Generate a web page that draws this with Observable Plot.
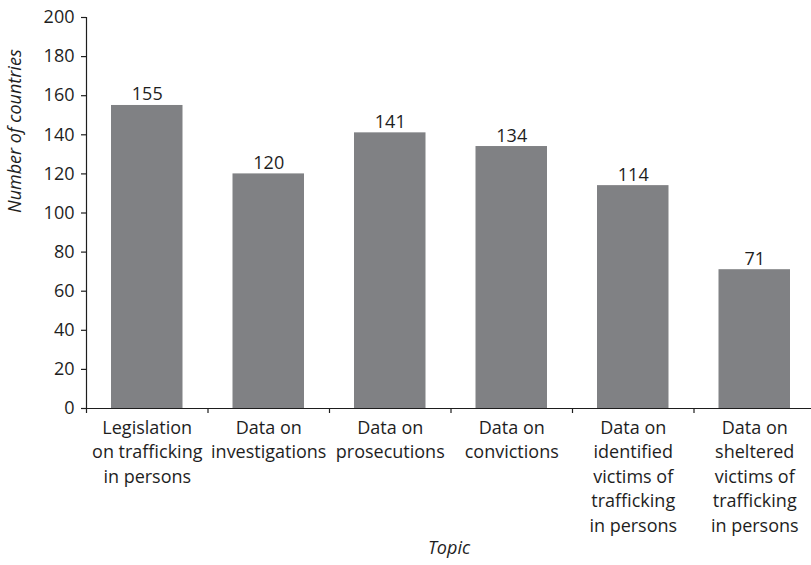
<!DOCTYPE html>
<html>
<head>
<meta charset="utf-8">
<script src="https://cdn.jsdelivr.net/npm/d3@7"></script>
<script src="https://cdn.jsdelivr.net/npm/@observablehq/plot@0.6"></script>
<style>
  html, body { margin: 0; padding: 0; background: #fff; }
  svg { display: block; }
</style>
</head>
<body>
<div id="chart"></div>
<script>
const categories = [
  "Legislation\non trafficking\nin persons",
  "Data on\ninvestigations",
  "Data on\nprosecutions",
  "Data on\nconvictions",
  "Data on\nidentified\nvictims of\ntrafficking\nin persons",
  "Data on\nsheltered\nvictims of\ntrafficking\nin persons"
];
const values = [155, 120, 141, 134, 114, 71];
const yTicks = [0, 20, 40, 60, 80, 100, 120, 140, 160, 180, 200];
const yLabel = "Number of countries";
const xLabel = "Topic";

const data = categories.map((c, i) => ({idx: i, category: c, value: values[i]}));
const boundaries = categories.map((c, i) => i);

const ink = "#1e1e1e";
const barColor = "#808184";
const font = "'Open Sans', sans-serif";

const chart = Plot.plot({
  width: 811,
  height: 565,
  marginTop: 17,
  marginBottom: 157,
  marginLeft: 86,
  marginRight: 0,
  style: {fontFamily: font, fontSize: "18px", color: ink, background: "#fff"},
  x: {type: "linear", domain: [0, categories.length], range: [86, 815], axis: null},
  y: {domain: [0, 200], axis: null},
  marks: [
    Plot.rectY(data, {x1: d => d.idx, x2: d => d.idx + 1, y1: 0, y2: "value", fill: barColor, insetLeft: 25, insetRight: 25}),
    Plot.ruleY([0], {stroke: ink, strokeWidth: 1.2}),
    Plot.ruleX([0], {y1: 0, y2: 200, stroke: ink, strokeWidth: 1.2}),
    Plot.axisX({ticks: boundaries, tickSize: 5, tickFormat: () => "", stroke: ink, strokeWidth: 1.2, label: null}),
    Plot.axisY({ticks: yTicks, tickSize: 5, tickPadding: 7, fontSize: 18, fill: ink, stroke: ink, strokeWidth: 1.2, label: null}),
    Plot.text(data, {x: d => d.idx + 0.5, y: 0, text: "category", lineAnchor: "top", dy: 8, lineHeight: 1.36, fontSize: 18, fill: ink, textAnchor: "middle"}),
    Plot.text(data, {x: d => d.idx + 0.5, y: "value", text: d => String(d.value), lineAnchor: "bottom", dy: -5, fontSize: 18, fill: ink}),
    Plot.text([yLabel], {frameAnchor: "left", rotate: -90, dx: -71, fontSize: 18, fontStyle: "italic", fill: ink}),
    Plot.text([xLabel], {frameAnchor: "bottom", dy: 145, fontSize: 18, fontStyle: "italic", fill: ink})
  ]
});
document.getElementById("chart").append(chart);
</script>
</body>
</html>
